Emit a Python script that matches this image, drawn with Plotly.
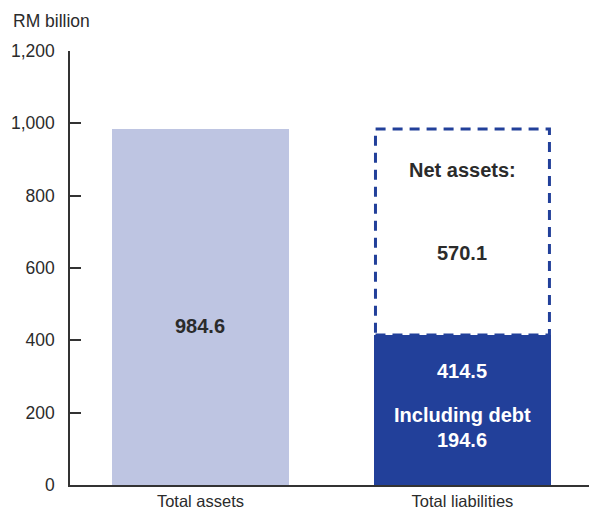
import plotly.graph_objects as go

categories = ["Total assets", "Total liabilities"]
total_assets = [984.6]
total_liabilities = [414.5]
net_assets = [570.1]
debt = [194.6]
y_ticks = [0, 200, 400, 600, 800, 1000, 1200]

LIGHT = "#BEC5E2"
DARK = "#22409A"
TXT = "#2b2b2b"
FONT = "Liberation Sans"

x_pos = [0, 1]
bar_w = 0.676

fig = go.Figure()
fig.add_trace(go.Bar(x=[x_pos[0]], y=total_assets, width=bar_w,
                     marker=dict(color=LIGHT, line=dict(width=0)), showlegend=False, hoverinfo="skip"))
fig.add_trace(go.Bar(x=[x_pos[1]], y=total_liabilities, width=bar_w,
                     marker=dict(color=DARK, line=dict(width=0)), showlegend=False, hoverinfo="skip"))

# dashed net-assets box stacked on liabilities
fig.add_shape(type="rect", xref="x", yref="y",
              x0=x_pos[1] - bar_w / 2 + 0.006, x1=x_pos[1] + bar_w / 2 - 0.006,
              y0=total_liabilities[0], y1=total_liabilities[0] + net_assets[0],
              line=dict(color=DARK, width=3, dash="10px,7px"), fillcolor="rgba(0,0,0,0)")

ann_font = dict(family=FONT, size=20, color=TXT)
fig.add_annotation(x=x_pos[0], y=440, xref="x", yref="y", text=f"<b>{total_assets[0]}</b>",
                   showarrow=False, font=ann_font)
fig.add_annotation(x=x_pos[1], y=870, xref="x", yref="y", text="<b>Net assets:</b>",
                   showarrow=False, font=ann_font)
fig.add_annotation(x=x_pos[1], y=642, xref="x", yref="y", text=f"<b>{net_assets[0]}</b>",
                   showarrow=False, font=ann_font)
wfont = dict(family=FONT, size=20, color="white")
fig.add_annotation(x=x_pos[1], y=315, xref="x", yref="y", text=f"<b>{total_liabilities[0]}</b>",
                   showarrow=False, font=wfont)
fig.add_annotation(x=x_pos[1], y=193, xref="x", yref="y", text="<b>Including debt</b>",
                   showarrow=False, font=dict(family=FONT, size=20, color="white"))
fig.add_annotation(x=x_pos[1], y=124, xref="x", yref="y", text=f"<b>{debt[0]}</b>",
                   showarrow=False, font=dict(family=FONT, size=20, color="white"))

fig.add_annotation(x=-0.113, y=1.068, xref="paper", yref="paper", text="RM billion",
                   xanchor="left", yanchor="middle",
                   showarrow=False, font=dict(family=FONT, size=17.5, color=TXT))

fig.update_layout(
    width=589, height=509,
    margin=dict(l=70, r=0, t=51, b=24, autoexpand=False),
    paper_bgcolor="white", plot_bgcolor="white",
    font=dict(family=FONT, size=17, color=TXT),
    bargap=0,
    xaxis=dict(range=[-0.498, 1.483], tickvals=x_pos, ticktext=categories,
               showgrid=False, zeroline=False, showline=True, linecolor="#333333", linewidth=1.5,
               ticks="", tickfont=dict(size=16.5, color=TXT), automargin=False),
    yaxis=dict(range=[0, 1200], tickvals=y_ticks, tickformat=",", showgrid=False, zeroline=False,
               showline=True, linecolor="#333333", linewidth=1.5, ticks="inside", ticklen=11,
               tickcolor="#333333", tickwidth=1.5, tickfont=dict(size=17.5, color=TXT),
               ticklabelstandoff=10, automargin=False),
)

fig.write_html("out.html")
